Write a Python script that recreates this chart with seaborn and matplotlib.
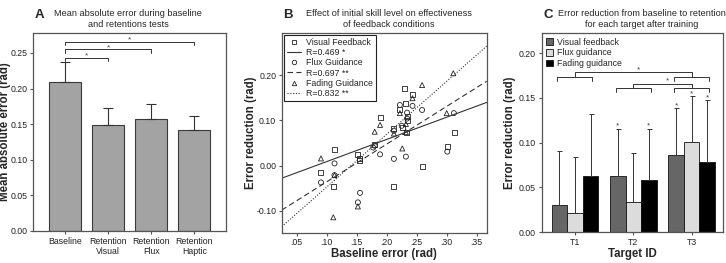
import numpy as np
import pandas as pd
import matplotlib
matplotlib.use('Agg')
import matplotlib.pyplot as plt
from matplotlib.lines import Line2D
from matplotlib.patches import Patch
import seaborn as sns

# Panel A: error absoluto medio
cond_labels = ['Baseline', 'Retention\nVisual', 'Retention\nFlux', 'Retention\nHaptic']
mae_mean = [0.209, 0.149, 0.157, 0.142]
mae_err = [0.028, 0.024, 0.022, 0.019]
sig_pairs_a = [(0, 1), (0, 2), (0, 3)]
sig_levels_a = [0.243, 0.255, 0.266]

# Panel B: baseline error vs error reduction
vis_x = [0.0905, 0.113, 0.111, 0.152, 0.154, 0.1555, 0.180, 0.189, 0.212, 0.212, 0.226,
         0.222, 0.2305, 0.232, 0.233, 0.235, 0.235, 0.243, 0.259, 0.301, 0.313]
vis_y = [-0.015, 0.036, -0.046, 0.024, 0.016, 0.011, 0.046, 0.106, 0.081, -0.046, 0.085,
         0.123, 0.171, 0.138, 0.074, 0.108, 0.099, 0.158, -0.002, 0.043, 0.074]
flux_x = [0.0905, 0.113, 0.113, 0.1555, 0.152, 0.1775, 0.180, 0.189, 0.212, 0.212, 0.225,
          0.222, 0.232, 0.234, 0.234, 0.243, 0.259, 0.301, 0.312]
flux_y = [-0.037, 0.005, -0.021, -0.060, -0.081, 0.040, 0.044, 0.025, 0.077, 0.015, 0.088,
          0.134, 0.020, 0.117, 0.104, 0.132, 0.123, 0.031, 0.116]
fad_x = [0.0905, 0.113, 0.111, 0.152, 0.180, 0.189, 0.212, 0.222, 0.226, 0.232, 0.232,
         0.243, 0.259, 0.300, 0.311]
fad_y = [0.016, -0.021, -0.114, -0.090, 0.075, 0.090, 0.071, 0.116, 0.038, 0.092, 0.074,
         0.149, 0.178, 0.116, 0.204]
series_names = ['Visual Feedback', 'Flux Guidance', 'Fading Guidance']
fit_slope = [0.49, 0.833, 1.167]
fit_icpt = [-0.040, -0.119, -0.164]
fit_labels = ['R=0.469 *', 'R=0.697 **', 'R=0.832 **']
b_xticks = [0.05, 0.10, 0.15, 0.20, 0.25, 0.30, 0.35]
b_xticklabels = ['.05', '.10', '.15', '.20', '.25', '.30', '.35']
b_yticks = [-0.10, 0.00, 0.10, 0.20]

# Panel C: reduccion por objetivo
targets = ['T1', 'T2', 'T3']
groups = ['Visual feedback', 'Flux guidance', 'Fading guidance']
red_visual = [0.031, 0.0625, 0.0866]
red_flux = [0.021, 0.034, 0.1007]
red_fading = [0.0625, 0.0587, 0.0784]
sd_visual = [0.060, 0.053, 0.052]
sd_flux = [0.063, 0.055, 0.051]
sd_fading = [0.070, 0.057, 0.069]
star_visual = [False, True, True]
star_flux = [False, False, True]
star_fading = [False, True, True]
# comparaciones entre objetivos: (desde, hasta, nivel del grupo, nivel de la barra superior)
sig_c = [(0, 2, 0.1732, 0.1784), (1, 2, 0.161, 0.1658)]

sns.set_style('ticks')
plt.rcParams['font.family'] = ['Liberation Sans', 'DejaVu Sans']
plt.rcParams['axes.edgecolor'] = '#555555'
plt.rcParams['axes.linewidth'] = 0.9
plt.rcParams['xtick.color'] = '#555555'
plt.rcParams['ytick.color'] = '#555555'
plt.rcParams['xtick.labelcolor'] = '#222222'
plt.rcParams['ytick.labelcolor'] = '#222222'
plt.rcParams['xtick.major.size'] = 2.5
plt.rcParams['ytick.major.size'] = 2.5
plt.rcParams['xtick.major.width'] = 0.8
plt.rcParams['ytick.major.width'] = 0.8

tick_fs = 6.3
lab_fs = 8.3
title_fs = 6.6
line_col = '#333333'

fig = plt.figure(figsize=(7.26, 2.63), dpi=100)
axA = fig.add_axes([0.0459, 0.1217, 0.2654, 0.754])
axB = fig.add_axes([0.388, 0.1152, 0.2824, 0.7605])
axC = fig.add_axes([0.7461, 0.1167, 0.2501, 0.7567])

# ---------- A ----------
sns.barplot(x=cond_labels, y=mae_mean, color='#a3a3a3', edgecolor='#3a3a3a',
            linewidth=0.8, width=0.75, ax=axA, saturation=1)
axA.errorbar(range(len(mae_mean)), mae_mean, yerr=[np.zeros(4), mae_err], fmt='none',
             ecolor=line_col, elinewidth=0.8, capsize=3.6, capthick=0.8)
for (i, j), lev in zip(sig_pairs_a, sig_levels_a):
    axA.plot([i, i, j, j], [lev - 0.0047, lev, lev, lev - 0.0047], color=line_col, lw=0.7)
    axA.text((i + j) / 2, lev + 0.0005, '*', ha='center', va='baseline', fontsize=6, color='#444444')
axA.set_xlim(-0.744, 3.74)
axA.set_ylim(0, 0.2785)
axA.set_yticks([0, 0.05, 0.10, 0.15, 0.20, 0.25])
axA.set_yticklabels(['0.00', '0.05', '0.10', '0.15', '0.20', '0.25'])
axA.tick_params(labelsize=tick_fs, pad=1.5)
axA.set_ylabel('Mean absolute error (rad)', fontsize=lab_fs, fontweight='bold')
axA.yaxis.set_label_coords(-0.117, 0.5)

# ---------- B ----------
markers = ['s', 'o', '^']
xs_all = [vis_x, flux_x, fad_x]
ys_all = [vis_y, flux_y, fad_y]
styles = ['-', (0, (5, 3)), (0, (1, 1.5))]
for xs, ys, m in zip(xs_all, ys_all, markers):
    sns.scatterplot(x=xs, y=ys, marker=m, s=13, facecolor='none', edgecolor='#222222',
                    linewidth=0.6, ax=axB)
for sl, ic, ls in zip(fit_slope, fit_icpt, styles):
    axB.axline((0, ic), slope=sl, color=line_col, lw=0.8, linestyle=ls)
axB.set_xlim(0.025, 0.3667)
axB.set_ylim(-0.148, 0.2936)
axB.set_xticks(b_xticks)
axB.set_xticklabels(b_xticklabels)
axB.set_yticks(b_yticks)
axB.set_yticklabels(['-0.10', '0.00', '0.10', '0.20'])
axB.tick_params(labelsize=tick_fs, pad=1.5)
axB.set_xlabel('Baseline error (rad)', fontsize=lab_fs, fontweight='bold')
axB.set_ylabel('Error reduction (rad)', fontsize=lab_fs, fontweight='bold')
axB.yaxis.set_label_coords(-0.122, 0.5)
axB.xaxis.set_label_coords(0.5, -0.075)
handles = []
labels = []
for name, m, ls, fl in zip(series_names, markers, styles, fit_labels):
    handles.append(Line2D([], [], marker=m, linestyle='none', markersize=3.2,
                          markerfacecolor='none', markeredgecolor='#222222', markeredgewidth=0.6))
    labels.append(name)
    handles.append(Line2D([], [], color=line_col, lw=0.8, linestyle=ls))
    labels.append(fl)
leg = axB.legend(handles, labels, loc='upper left', fontsize=tick_fs, frameon=True,
                 fancybox=False, edgecolor='#222222', framealpha=1, borderpad=0.35,
                 labelspacing=0.12, handlelength=1.5, handletextpad=0.6,
                 borderaxespad=0.3)
leg.get_frame().set_linewidth(0.8)

# ---------- C ----------
c_colors = ['#666666', '#dcdcdc', '#000000']
df_c = pd.DataFrame({'target': targets * 3,
                     'group': np.repeat(groups, 3),
                     'value': red_visual + red_flux + red_fading})
sns.barplot(data=df_c, x='target', y='value', hue='group', palette=c_colors,
            edgecolor='#111111', linewidth=0.6, width=0.8, ax=axC, legend=False, saturation=1)
for cont, sd, stars in zip(axC.containers, [sd_visual, sd_flux, sd_fading],
                           [star_visual, star_flux, star_fading]):
    bx = [p.get_x() + p.get_width() / 2 for p in cont]
    by = [p.get_height() for p in cont]
    axC.errorbar(bx, by, yerr=[np.zeros(len(sd)), sd], fmt='none', ecolor=line_col,
                 elinewidth=0.7, capsize=1.8, capthick=0.7)
    for x, y, e, st in zip(bx, by, sd, stars):
        if st:
            axC.text(x, y + e + 0.001, '*', ha='center', va='baseline', fontsize=6, color='#444444')
half = 0.3
for i, j, lev, top in sig_c:
    for g in (i, j):
        axC.plot([g - half, g - half, g + half, g + half],
                 [lev - 0.004, lev, lev, lev - 0.004], color=line_col, lw=0.7)
    axC.plot([i, i, j, j], [lev, top, top, lev], color=line_col, lw=0.7)
    axC.text((i + j) / 2 + 0.08, top + 0.001, '*', ha='center', va='baseline', fontsize=6, color='#444444')
axC.set_xlim(-0.57, 2.54)
axC.set_ylim(0, 0.222)
axC.set_yticks([0, 0.05, 0.10, 0.15, 0.20])
axC.set_yticklabels(['0.00', '0.05', '0.10', '0.15', '0.20'])
axC.tick_params(labelsize=tick_fs, pad=1.5)
axC.set_xlabel('Target ID', fontsize=lab_fs, fontweight='bold')
axC.set_ylabel('Error reduction (rad)', fontsize=lab_fs, fontweight='bold')
axC.yaxis.set_label_coords(-0.141, 0.5)
axC.xaxis.set_label_coords(0.5, -0.08)
c_handles = [Patch(facecolor=c, edgecolor='#111111', linewidth=0.6) for c in c_colors]
axC.legend(c_handles, groups, loc='upper left', fontsize=tick_fs, frameon=False,
           handlelength=0.8, handleheight=0.8, handletextpad=0.4, labelspacing=0.2,
           borderaxespad=0.3, borderpad=0.2)

# titulos
W, H = 726, 263
fig.text(35 / W, 1 - 15 / H, 'A', fontsize=9.5, fontweight='bold', va='center', ha='left')
fig.text(128 / W, 1 - 19 / H, 'Mean absolute error during baseline\nand retentions tests',
         fontsize=title_fs, ha='center', va='center', linespacing=1.15)
fig.text(283 / W, 1 - 15 / H, 'B', fontsize=9.5, fontweight='bold', va='center', ha='left')
fig.text(389 / W, 1 - 19 / H, 'Effect of initial skill level on effectiveness\nof feedback conditions',
         fontsize=title_fs, ha='center', va='center', linespacing=1.15)
fig.text(543 / W, 1 - 15 / H, 'C', fontsize=9.5, fontweight='bold', va='center', ha='left')
fig.text(642 / W, 1 - 19 / H, 'Error reduction from baseline to retention\nfor each target after training',
         fontsize=title_fs, ha='center', va='center', linespacing=1.15)

fig.savefig('out.png', dpi=100)
